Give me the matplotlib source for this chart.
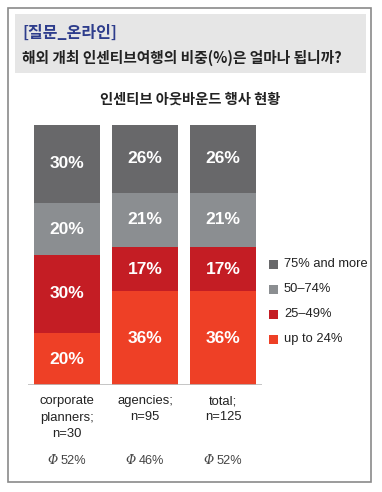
import matplotlib
matplotlib.use("Agg")
import matplotlib.pyplot as plt
from matplotlib.patches import Rectangle
import numpy as np

plt.rcParams['font.family'] = ['Liberation Sans', 'Noto Sans CJK KR', 'DejaVu Sans']

categories = ["corporate\nplanners;\nn=30", "agencies;\nn=95", "total;\nn=125"]
averages = ["52%", "46%", "52%"]
series_names = ["up to 24%", "25\u201349%", "50\u201374%", "75% and more"]
up_to_24 = [20, 36, 36]
p25_49 = [30, 17, 17]
p50_74 = [20, 21, 21]
p75_more = [30, 26, 26]
colors = ["#ee4026", "#c41d24", "#8b8e91", "#68686a"]

W, H = 382, 492
fig = plt.figure(figsize=(W / 100, H / 100), dpi=100)

def px(x, y):
    return x / W, 1 - y / H

# outer frame and header box
fig.patches.append(Rectangle(px(8, 482), 363 / W, 474 / H, transform=fig.transFigure,
                             fill=False, edgecolor="#8a8a8a", linewidth=1.2))
fig.patches.append(Rectangle(px(15, 73), 351 / W, 59 / H, transform=fig.transFigure,
                             facecolor="#e6e6e6", edgecolor="none"))
fig.text(*px(22, 33), "[질문_온라인]", color="#2e3d8c", fontsize=11.5, fontweight="bold",
         va="center", ha="left", family=['Noto Sans CJK KR'])
fig.text(*px(22, 58), "해외 개최 인센티브여행의 비중(%)은 얼마나 됩니까?", color="#222222",
         fontsize=10.6, fontweight="bold", va="center", ha="left", family=['Noto Sans CJK KR'])
fig.text(*px(190, 100), "인센티브 아웃바운드 행사 현황", color="#222222", fontsize=10.3,
         fontweight="bold", va="center", ha="center", family=['Noto Sans CJK KR'])

# bar axes: x 28..262 px, y 125..385 px
l, b = px(28, 385)
ax = fig.add_axes([l, b, 234 / W, 260 / H])
x = np.arange(len(categories))
bottom = np.zeros(len(categories))
for vals, col in zip([up_to_24, p25_49, p50_74, p75_more], colors):
    vals = np.array(vals)
    ax.bar(x, vals, bottom=bottom, width=66 / 78, color=col, linewidth=0)
    for xi, v, bt in zip(x, vals, bottom):
        ax.text(xi, bt + v / 2, f"{v}%", ha="center", va="center", color="white",
                fontsize=12.5, fontweight="bold",
                family=['Liberation Sans Narrow', 'Liberation Sans'])
    bottom += vals
ax.set_xlim(-0.5, 2.5)
ax.set_ylim(0, 100)
ax.axis("off")
ax.axhline(0, color="#bbbbbb", linewidth=1.2)

for xi, cat, avg in zip(x, categories, averages):
    cx = (28 + 39 + xi * 78) / W
    fig.text(cx, 1 - 395 / H, cat, ha="center", va="top", fontsize=9.4,
             color="#222222", linespacing=1.5)
    fig.text(cx - 9 / W, 1 - 461 / H, "Φ", ha="right", va="center", fontsize=9,
             style="italic", color="#444444", family=['DejaVu Serif'])
    fig.text(cx - 6 / W, 1 - 461 / H, avg, ha="left", va="center", fontsize=9.2, color="#444444")

# legend
leg_y = [264, 289, 314, 339]
for name, col, ly in zip(series_names[::-1], colors[::-1], leg_y):
    fig.patches.append(Rectangle(px(269, ly + 4.5), 9 / W, 9 / H, transform=fig.transFigure,
                                 facecolor=col, edgecolor="none"))
    fig.text(*px(284, ly), name, ha="left", va="center", fontsize=9.3, color="#222222")

fig.savefig("out.png", dpi=100)
